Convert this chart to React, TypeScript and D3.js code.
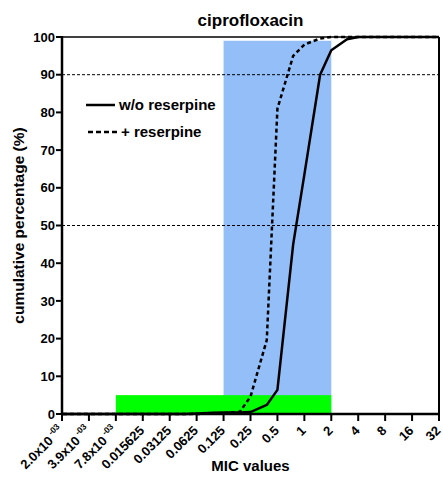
import React from 'react';
import * as d3 from 'd3';

const micValues = [0.002, 0.003, 0.004, 0.006, 0.008, 0.012, 0.016, 0.023, 0.032, 0.047, 0.064, 0.094, 0.125, 0.19, 0.25, 0.38, 0.5, 0.75, 1, 1.5, 2, 3, 4, 6, 8, 12, 16, 24, 32];
const withoutReserpine = [0, 0, 0, 0, 0, 0, 0, 0, 0, 0, 0.1, 0.3, 0.4, 0.4, 0.5, 2.4, 6.4, 45, 63.5, 90, 96.5, 99.4, 100, 100, 100, 100, 100, 100, 100];
const withReserpine = [0, 0, 0, 0, 0, 0, 0, 0, 0, 0, 0, 0.1, 0.2, 0.6, 4.6, 19.6, 81, 95, 98, 99.6, 100, 100, 100, 100, 100, 100, 100, 100, 100];

const tickValues = [0.001953125, 0.00390625, 0.0078125, 0.015625, 0.03125, 0.0625, 0.125, 0.25, 0.5, 1, 2, 4, 8, 16, 32];
const tickLabels = ['2.0x10|-03', '3.9x10|-03', '7.8x10|-03', '0.015625', '0.03125', '0.0625', '0.125', '0.25', '0.5', '1', '2', '4', '8', '16', '32'];
const yTicks = [0, 10, 20, 30, 40, 50, 60, 70, 80, 90, 100];
const refLines = [50, 90];

// shaded ranges: [from MIC, to MIC, top %]
const blueBand = [0.125, 2, 99];
const greenBand = [0.0078125, 2, 5];

const FONT = '"Liberation Sans", Arial, sans-serif';

export default function App() {
  const width = 443;
  const height = 477;
  const margin = { top: 37, right: 4, bottom: 63, left: 62 };

  const x = d3.scaleLog().base(2)
    .domain([tickValues[0], tickValues[tickValues.length - 1]])
    .range([margin.left, width - margin.right]);
  const y = d3.scaleLinear()
    .domain([0, 100])
    .range([height - margin.bottom, margin.top]);

  const line = d3.line<number>()
    .x((_, i) => x(micValues[i]))
    .y(d => y(d));

  const x0 = x.range()[0];
  const x1 = x.range()[1];
  const y0 = y.range()[0];
  const y1 = y.range()[1];

  return (
    <svg width={width} height={height} style={{ position: 'absolute', left: 0, top: 0 }} fontFamily={FONT} fontWeight="bold">
      <rect x={x(blueBand[0])} y={y(blueBand[2])} width={x(blueBand[1]) - x(blueBand[0])} height={y(0) - y(blueBand[2])} fill="#93bef7" />
      <rect x={x(greenBand[0])} y={y(greenBand[2])} width={x(greenBand[1]) - x(greenBand[0])} height={y(0) - y(greenBand[2])} fill="#00ff00" />

      {refLines.map(v => (
        <line key={v} x1={x0} x2={x1} y1={y(v)} y2={y(v)} stroke="#000" strokeWidth={1} strokeDasharray="3,2" />
      ))}

      <path d={line(withoutReserpine) || ''} fill="none" stroke="#000" strokeWidth={2.5} strokeLinejoin="round" />
      <path d={line(withReserpine) || ''} fill="none" stroke="#000" strokeWidth={2.5} strokeDasharray="4,3" />

      {/* frame */}
      <line x1={x0} x2={x1} y1={y1} y2={y1} stroke="#000" strokeWidth={1.5} />
      <line x1={x1} x2={x1} y1={y1} y2={y0} stroke="#000" strokeWidth={2} />
      <line x1={x0} x2={x0} y1={y1 - 1} y2={y0 + 1} stroke="#000" strokeWidth={2.5} />
      <line x1={x0 - 1} x2={x1 + 1} y1={y0} y2={y0} stroke="#000" strokeWidth={2.5} />

      {/* y axis */}
      {yTicks.map(t => (
        <g key={t}>
          <line x1={x0 - 6} x2={x0} y1={y(t)} y2={y(t)} stroke="#000" strokeWidth={2} />
          <text x={x0 - 7} y={y(t)} dy="0.36em" textAnchor="end" fontSize={13}>{t}</text>
        </g>
      ))}

      {/* x axis */}
      {tickValues.map((t, i) => {
        const [base, sup] = tickLabels[i].split('|');
        return (
          <g key={t}>
            <line x1={x(t)} x2={x(t)} y1={y0} y2={y0 + 7} stroke="#000" strokeWidth={2} />
            <text transform={`translate(${x(t) - 1},${y0 + 14}) rotate(-45)`} dy="0.36em" textAnchor="end" fontSize={13}>
              {base}
              {sup && <tspan fontSize={8.5} dy={-6}>{' ' + sup}</tspan>}
            </text>
          </g>
        );
      })}

      <text x={(x0 + x1) / 2} y={26} textAnchor="middle" fontSize={17}>ciprofloxacin</text>
      <text x={(x0 + x1) / 2} y={471} textAnchor="middle" fontSize={15}>MIC values</text>
      <text transform={`translate(24,${(y0 + y1) / 2}) rotate(-90)`} textAnchor="middle" fontSize={15.5}>cumulative percentage (%)</text>

      {/* legend */}
      <line x1={86} x2={115} y1={105} y2={105} stroke="#000" strokeWidth={2.5} />
      <text x={119} y={110} fontSize={15}>w/o reserpine</text>
      <line x1={88} x2={120} y1={132} y2={132} stroke="#000" strokeWidth={2.5} strokeDasharray="5,3" />
      <text x={121} y={137} fontSize={15}>+ reserpine</text>
    </svg>
  );
}
